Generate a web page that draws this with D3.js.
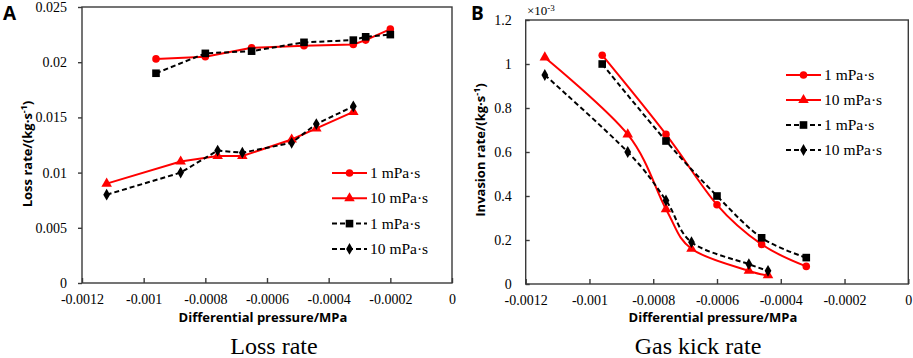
<!DOCTYPE html>
<html>
<head>
<meta charset="utf-8">
<script src="https://cdn.jsdelivr.net/npm/d3@7"></script>
<style>
  body { margin: 0; background: #fff; }
  svg { display: block; }
</style>
</head>
<body>
<div id="container"></div>
<script>
/* DATA */
const xTicks = [-0.0012, -0.001, -0.0008, -0.0006, -0.0004, -0.0002, 0]
const seriesNames = ["1 mPa·s", "10 mPa·s", "1 mPa·s", "10 mPa·s"]

// PANEL A - LOSS RATE
const lossX1 = [-0.00096, -0.0008, -0.00065, -0.00048, -0.00032, -0.00028, -0.0002]
const lossRed1 = [0.0203, 0.0205, 0.0213, 0.0215, 0.0216, 0.022, 0.023]
const lossBlack1 = [0.019, 0.0208, 0.021, 0.0218, 0.022, 0.0223, 0.0225]
const lossX10 = [-0.00112, -0.00088, -0.00076, -0.00068, -0.00052, -0.00044, -0.00032]
const lossRed10 = [0.009, 0.011, 0.0115, 0.0115, 0.013, 0.014, 0.0155]
const lossBlack10 = [0.008, 0.01, 0.012, 0.0118, 0.0127, 0.0144, 0.016]
const lossYTicks = [0, 0.005, 0.01, 0.015, 0.02, 0.025]

// PANEL B - GAS KICK RATE (x10^-3)
const kickX1 = [-0.00096, -0.00076, -0.0006, -0.00046, -0.00032]
const kickRed1 = [1.04, 0.68, 0.36, 0.18, 0.08]
const kickBlack1 = [1.0, 0.65, 0.4, 0.21, 0.12]
const kickX10 = [-0.00114, -0.00088, -0.00076, -0.00068, -0.0005, -0.00044]
const kickRed10 = [1.03, 0.68, 0.34, 0.16, 0.06, 0.04]
const kickBlack10 = [0.95, 0.6, 0.38, 0.19, 0.09, 0.06]
const kickYTicks = [0, 0.2, 0.4, 0.6, 0.8, 1, 1.2]

/* CONSTANTS */
const width = 913, height = 358
const serif = "'Liberation Serif', 'Times New Roman', serif"
const sans = "'Open Sans', 'DejaVu Sans', sans-serif"

const svg = d3.select("#container")
  .append("svg")
  .attr("width", width)
  .attr("height", height)

// MARKER SYMBOLS
const markers = [
  { sym: d3.symbolCircle, size: 45, color: "#ff0000", dash: null },
  { sym: d3.symbolTriangle, size: 48, color: "#ff0000", dash: null },
  { sym: d3.symbolSquare, size: 58, color: "#000000", dash: "5,3" },
  { sym: d3.symbolDiamond, size: 40, color: "#000000", dash: "5,3" },
]

function drawPanel(p) {
  const g = svg.append("g")

  const x = d3.scaleLinear().domain([-0.0012, 0]).range([p.left, p.right])
  const y = d3.scaleLinear().domain([0, p.yMax]).range([p.bottom, p.top])

  // FRAME
  g.append("rect")
    .attr("x", p.left).attr("y", p.top)
    .attr("width", p.right - p.left).attr("height", p.bottom - p.top)
    .attr("fill", "none").attr("stroke", "#3a3a3a").attr("stroke-width", 1.4)

  // X AXIS (ticks pointing inside)
  const xAxis = g.append("g")
    .attr("transform", `translate(0,${p.bottom})`)
    .call(d3.axisBottom(x).tickValues(xTicks).tickSizeInner(-5).tickSizeOuter(0)
      .tickFormat(d => d === 0 ? "0" : String(d)))
  xAxis.select(".domain").remove()
  xAxis.selectAll("line").attr("stroke", "#3a3a3a").attr("stroke-width", 1.4)
  xAxis.selectAll("text")
    .attr("y", 21)
    .attr("dy", 0)
    .attr("font-family", serif).attr("font-size", 14).attr("fill", "#000")

  // Y AXIS
  const yAxis = g.append("g")
    .attr("transform", `translate(${p.left},0)`)
    .call(d3.axisLeft(y).tickValues(p.yTicks).tickSizeInner(p.yTick).tickSizeOuter(0)
      .tickPadding(p.yPad).tickFormat(d => String(d)))
  yAxis.select(".domain").remove()
  yAxis.selectAll("line").attr("stroke", "#3a3a3a").attr("stroke-width", 1.4)
  yAxis.selectAll("text")
    .attr("font-family", serif).attr("font-size", 14).attr("fill", "#000")

  // AXIS TITLES
  g.append("text")
    .attr("x", (p.left + p.right) / 2 - 4).attr("y", 322)
    .attr("text-anchor", "middle")
    .attr("font-family", sans).attr("font-weight", "bold").attr("font-size", 13)
    .text("Differential pressure/MPa")

  const yt = g.append("text")
    .attr("transform", `translate(${p.yTitleX},${p.yTitleY}) rotate(-90)`)
    .attr("text-anchor", "middle")
    .attr("font-family", sans).attr("font-weight", "bold").attr("font-size", 13)
  yt.append("tspan").text(p.yTitle + "/(kg·s")
  yt.append("tspan").attr("dy", -5).attr("font-size", 9).text("-1")
  yt.append("tspan").attr("dy", 5).text(")")

  // PANEL LETTER
  g.append("text")
    .attr("x", p.letterX).attr("y", 20)
    .attr("font-family", sans).attr("font-weight", "bold").attr("font-size", 19)
    .text(p.letter)

  // CAPTION
  g.append("text")
    .attr("x", p.captionX).attr("y", 354)
    .attr("text-anchor", "middle")
    .attr("font-family", serif).attr("font-size", 24)
    .text(p.caption)

  // SERIES
  p.series.forEach((s, i) => {
    const m = markers[i]
    const pts = s.xs.map((v, j) => [v, s.ys[j]])
    const line = d3.line()
      .x(d => x(d[0])).y(d => y(d[1]))
      .curve(p.smooth ? d3.curveCardinal.tension(0) : d3.curveLinear)
    g.append("path")
      .datum(pts)
      .attr("d", line)
      .attr("fill", "none")
      .attr("stroke", m.color)
      .attr("stroke-width", 2)
      .attr("stroke-dasharray", m.dash)
    g.selectAll(null)
      .data(pts)
      .join("path")
      .attr("d", d3.symbol(m.sym, m.size))
      .attr("transform", d => `translate(${x(d[0])},${y(d[1])})`)
      .attr("fill", m.color)
  })

  // LEGEND
  const leg = g.append("g")
  seriesNames.forEach((name, i) => {
    const m = markers[i]
    const ly = p.legendY + i * p.legendGap
    leg.append("line")
      .attr("x1", p.legendX).attr("x2", p.legendX + 35)
      .attr("y1", ly).attr("y2", ly)
      .attr("stroke", m.color).attr("stroke-width", 2)
      .attr("stroke-dasharray", m.dash)
    leg.append("path")
      .attr("d", d3.symbol(m.sym, m.size))
      .attr("transform", `translate(${p.legendX + 17.5},${ly})`)
      .attr("fill", m.color)
    leg.append("text")
      .attr("x", p.legendX + 38).attr("y", ly + 5)
      .attr("font-family", serif).attr("font-size", 15.5)
      .text(name)
  })

  return g
}

drawPanel({
  left: 82, right: 452, top: 7, bottom: 283,
  yMax: 0.025, yTicks: lossYTicks, yTick: 4, yPad: 11,
  yTitle: "Loss rate", yTitleX: 32, yTitleY: 154,
  letter: "A", letterX: 3,
  caption: "Loss rate", captionX: 274,
  smooth: false,
  legendX: 332, legendY: 173, legendGap: 25.3,
  series: [
    { xs: lossX1, ys: lossRed1 },
    { xs: lossX10, ys: lossRed10 },
    { xs: lossX1, ys: lossBlack1 },
    { xs: lossX10, ys: lossBlack10 },
  ],
})

const panelB = drawPanel({
  left: 525.7, right: 908.3, top: 20, bottom: 284,
  yMax: 1.2, yTicks: kickYTicks, yTick: -4, yPad: 14,
  yTitle: "Invasion rate", yTitleX: 485, yTitleY: 150,
  letter: "B", letterX: 471,
  caption: "Gas kick rate", captionX: 698,
  smooth: true,
  legendX: 786, legendY: 75, legendGap: 25,
  series: [
    { xs: kickX1, ys: kickRed1 },
    { xs: kickX10, ys: kickRed10 },
    { xs: kickX1, ys: kickBlack1 },
    { xs: kickX10, ys: kickBlack10 },
  ],
})

// EXPONENT NOTE
const ex = panelB.append("text")
  .attr("x", 527).attr("y", 15)
  .attr("font-family", serif).attr("font-size", 13)
ex.append("tspan").text("×10")
ex.append("tspan").attr("dy", -4).attr("font-size", 9).text("-3")
</script>
</body>
</html>
